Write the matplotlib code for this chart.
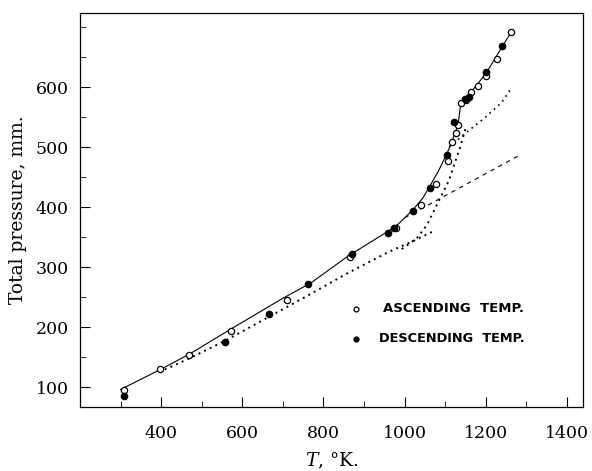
import matplotlib
matplotlib.use("Agg")
import matplotlib.pyplot as plt
from matplotlib.ticker import MultipleLocator

plt.rcParams['font.family'] = 'DejaVu Serif'
plt.rcParams['mathtext.fontset'] = 'dejavuserif'

# measured points, ascending temperature (open circles)
asc_T = [309, 397, 468, 573, 711, 866, 979, 1041, 1078, 1107, 1118, 1127,
         1132, 1139, 1152, 1164, 1181, 1200, 1227, 1263]
asc_P = [96, 131, 153, 193, 246, 316, 365, 403, 438, 476, 509, 524,
         537, 574, 578, 591, 601, 619, 647, 691]

# measured points, descending temperature (filled circles)
desc_T = [309, 557, 665, 762, 871, 959, 973, 1021, 1063, 1104, 1123,
          1149, 1160, 1201, 1241]
desc_P = [86, 175, 222, 272, 321, 357, 365, 393, 432, 487, 541,
          580, 584, 625, 668]

# drawn curves
fit_T = [300, 400, 470, 570, 700, 770, 860, 960, 985, 1020, 1045, 1065,
         1085, 1105, 1120, 1132, 1138, 1150, 1200, 1263]
fit_P = [96, 130, 155, 196, 248, 274, 318, 360, 372, 395, 415, 438,
         462, 490, 515, 538, 570, 580, 622, 692]

low_T = [395, 470, 560, 660, 760, 860, 960, 1020, 1075]
low_P = [125, 148, 178, 215, 252, 290, 325, 343, 361]

steep_T = [993, 1030, 1055, 1077, 1109, 1137, 1150]
steep_P = [330, 348, 370, 400, 444, 500, 530]

upper_T = [1110, 1150, 1200, 1240, 1262]
upper_P = [500, 523, 550, 575, 597]

dash_T = [1000, 1285]
dash_P = [382, 487]

fig = plt.figure(figsize=(5.92, 4.71), dpi=100)
ax = fig.add_axes([0.135, 0.136, 0.85, 0.836])

ax.plot(fit_T, fit_P, '-', color='black', lw=0.8)
ax.plot(low_T, low_P, color='black', lw=1.4, linestyle=(0, (1, 2.2)))
ax.plot(steep_T, steep_P, color='black', lw=1.4, linestyle=(0, (1, 2.2)))
ax.plot(upper_T, upper_P, color='black', lw=1.2, linestyle=(0, (1, 2.5)))
ax.plot(dash_T, dash_P, color='black', lw=0.8, linestyle=(0, (4, 4)))

ax.plot(asc_T, asc_P, 'o', ms=4.5, mfc='white', mec='black', mew=0.9)
ax.plot(desc_T, desc_P, 'o', ms=4.5, mfc='black', mec='black')

# legend
ax.plot([0.549], [0.249], 'o', ms=3.5, mfc='white', mec='black', mew=0.9,
        transform=ax.transAxes, clip_on=False)
ax.plot([0.549], [0.173], 'o', ms=3.5, mfc='black', mec='black',
        transform=ax.transAxes, clip_on=False)
ax.text(0.602, 0.249, 'ASCENDING  TEMP.', transform=ax.transAxes,
        family='DejaVu Sans', weight='bold', fontsize=9.5, va='center')
ax.text(0.594, 0.173, 'DESCENDING  TEMP.', transform=ax.transAxes,
        family='DejaVu Sans', weight='bold', fontsize=9.3, va='center')

ax.set_xlim(200, 1440)
ax.set_ylim(67, 723)
ax.xaxis.set_minor_locator(MultipleLocator(100))
ax.yaxis.set_minor_locator(MultipleLocator(50))
ax.set_xticks([400, 600, 800, 1000, 1200, 1400])
ax.set_yticks([100, 200, 300, 400, 500, 600])
ax.tick_params(which='both', direction='in', labelsize=12.5)
ax.tick_params(axis='x', which='major', length=7, width=0.8, pad=13)
ax.tick_params(axis='y', which='major', length=7, width=0.8, pad=8)
ax.tick_params(which='minor', length=4, width=0.6)
for s in ax.spines.values():
    s.set_linewidth(0.9)

ax.set_xlabel(r'$T$, °K.', fontsize=13.5, labelpad=6)
ax.set_ylabel('Total pressure, mm.', fontsize=13.5, labelpad=6)

fig.savefig('out.png', dpi=100)
